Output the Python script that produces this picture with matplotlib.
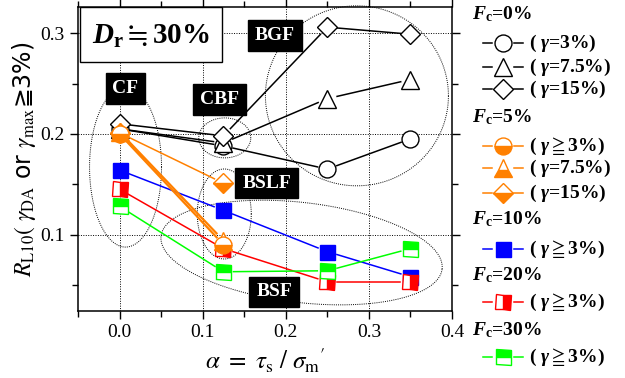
import numpy as np
import matplotlib
matplotlib.use('Agg')
from matplotlib import pyplot as plt
from matplotlib.patches import Rectangle

plt.rcParams['font.family'] = ['Liberation Serif', 'DejaVu Sans']
plt.rcParams['mathtext.fontset'] = 'custom'
plt.rcParams['mathtext.rm'] = 'Liberation Serif:bold'
plt.rcParams['mathtext.it'] = 'Liberation Serif:italic:bold'
plt.rcParams['mathtext.bf'] = 'Liberation Serif:bold'
plt.rcParams['mathtext.fallback'] = 'stix'

# data
alpha = [0.0, 0.125, 0.25, 0.35]
alpha_5 = [0.0, 0.125]
fc0_g3 = [0.205, 0.188, 0.165, 0.195]
fc0_g75 = [0.205, 0.191, 0.235, 0.254]
fc0_g15 = [0.210, 0.198, 0.306, 0.299]
fc5_g3 = [0.200, 0.090]
fc5_g75 = [0.202, 0.094]
fc5_g15 = [0.201, 0.151]
fc10 = [0.164, 0.124, 0.083, 0.058]
fc20 = [0.145, 0.086, 0.053, 0.053]
fc30 = [0.128, 0.063, 0.064, 0.086]

zones = ['CF', 'CBF', 'BGF', 'BSLF', 'BSF']
zone_x = [0.007, 0.120, 0.187, 0.177, 0.186]
zone_y = [0.245, 0.234, 0.298, 0.151, 0.043]

ORANGE, BLUE, RED, GREEN = '#ff8000', '#0000ff', '#ff0000', '#00ff00'

fig = plt.figure(figsize=(6.25, 3.78), dpi=100)
ax = fig.add_axes([0.1248, 0.1772, 0.5984, 0.8042])
ax.set_xlim(-0.05, 0.4)
ax.set_ylim(0.024, 0.326)


def gapped(x, y, gap=10):
    # Origin-style gap between line ends and markers
    pts = ax.transData.transform(np.column_stack([x, y]))
    inv = ax.transData.inverted()
    segs = []
    for p, q in zip(pts[:-1], pts[1:]):
        d = q - p
        u = d / np.hypot(*d)
        segs.append(inv.transform([p + u * gap, q - u * gap]))
    return segs


def series(x, y, color, marker, ms, fill='full', lw=1.1, z=3):
    for s in gapped(x, y):
        ax.plot(s[:, 0], s[:, 1], color=color, lw=lw, zorder=z)
    fc = 'white' if fill == 'none' else color
    ax.plot(x, y, ls='none', marker=marker, ms=ms, mec=color, mew=1.0,
            mfc=fc, fillstyle='full' if fill == 'none' else fill,
            markerfacecoloralt='white', zorder=z + 0.5)


def ellipse(cx, cy, w, h, ang=0):
    c = ax.transData.transform((cx, cy))
    t = np.linspace(0, 2 * np.pi, 300)
    r = np.deg2rad(ang)
    ex = w / 2 * np.cos(t)
    ey = h / 2 * np.sin(t)
    px = c[0] + ex * np.cos(r) - ey * np.sin(r)
    py = c[1] + ex * np.sin(r) + ey * np.cos(r)
    d = ax.transData.inverted().transform(np.column_stack([px, py]))
    ax.plot(d[:, 0], d[:, 1], color='k', lw=0.7, ls=(0, (1, 1.2)),
            zorder=1.5, clip_on=False)


ellipse(0.0072, 0.167, 72, 160)
ellipse(0.1266, 0.196, 52, 40)
ellipse(0.126, 0.1204, 54, 90)
ellipse(0.2856, 0.2378, 183, 180)
ellipse(0.219, 0.0821, 283, 100, -6.7)

series(alpha, fc10, BLUE, 's', 10.8, 'full')
series(alpha, fc20, RED, 's', 10.8, 'right')
series(alpha, fc30, GREEN, 's', 10.8, 'top')
series(alpha, fc0_g3, 'k', 'o', 12.2, 'none')
series(alpha, fc0_g75, 'k', '^', 13, 'none')
series(alpha, fc0_g15, 'k', 'D', 10.2, 'none')
series(alpha_5, fc5_g15, ORANGE, 'D', 10.2, 'bottom', z=5)
series(alpha_5, fc5_g75, ORANGE, '^', 13, 'bottom', lw=1.6, z=5)
series(alpha_5, fc5_g3, ORANGE, 'o', 12.2, 'bottom', lw=1.6, z=5)

for name, zx, zy in zip(zones, zone_x, zone_y):
    ax.text(zx, zy, name, color='white', fontsize=14, fontweight='bold',
            ha='center', va='center', zorder=7,
            bbox=dict(boxstyle='square,pad=0.35', fc='black', ec='black'))

# D_r box
ax.add_patch(Rectangle((0.005, 0.819), 0.38, 0.181, transform=ax.transAxes,
                       fc='white', ec='black', lw=1.0, zorder=8))
ax.text(0.195, 0.905, r'$D_{\mathrm{r}}\fallingdotseq$30%', transform=ax.transAxes,
        fontsize=21, fontweight='bold', ha='center', va='center', zorder=9)

ax.set_xticks([0.0, 0.1, 0.2, 0.3, 0.4])
ax.set_xticks([-0.05, 0.05, 0.15, 0.25, 0.35], minor=True)
ax.set_yticks([0.1, 0.2, 0.3])
ax.set_yticks([0.05, 0.15, 0.25], minor=True)
ax.set_xticklabels(['0.0', '0.1', '0.2', '0.3', '0.4'])
ax.set_yticklabels(['0.1', '0.2', '0.3'])
ax.tick_params(which='both', direction='out', labelsize=14, width=1.0,
               top=True, right=True)
ax.tick_params(which='major', length=6)
ax.tick_params(which='minor', length=4)
ax.grid(True, which='major', color='k', lw=0.7, ls=(0, (1, 1.5)))
ax.set_axisbelow(True)
for sp in ax.spines.values():
    sp.set_linewidth(1.1)

ax.set_xlabel(r'$\alpha\ =\ \tau_{\mathrm{s}}\ /\ \sigma_{\mathrm{m}}{}^{\prime}$',
              fontsize=18, math_fontfamily='stix', labelpad=4)
ax.set_ylabel(r'$R_{\mathrm{L10}}(\ \gamma_{\mathrm{DA}}$ or $\gamma_{\mathrm{max}}$≧3%)',
              fontsize=17, math_fontfamily='stix', family='DejaVu Sans',
              labelpad=2)

# legend drawn in figure pixel space
lax = fig.add_axes([0, 0, 1, 1])
lax.set_xlim(0, 625)
lax.set_ylim(378, 0)
lax.axis('off')


def head(y, txt):
    lax.text(472, y, r'$F_{\mathrm{c}}$=' + txt, fontsize=14, fontweight='bold',
             va='center', ha='left')


def item(y, color, marker, ms, fill, txt):
    lax.plot([483, 492], [y, y], color=color, lw=1.1)
    lax.plot([514, 523], [y, y], color=color, lw=1.1)
    fc = 'white' if fill == 'none' else color
    lax.plot([503], [y], ls='none', marker=marker, ms=ms, mec=color, mew=1.0,
             mfc=fc, fillstyle='full' if fill == 'none' else fill,
             markerfacecoloralt='white')
    lax.text(529, y, txt, fontsize=14, fontweight='bold', va='center', ha='left')


head(14, '0%')
item(43, 'k', 'o', 12.2, 'none', r'( $\gamma$=3%)')
item(67, 'k', '^', 13, 'none', r'( $\gamma$=7.5%)')
item(89, 'k', 'D', 10.2, 'none', r'( $\gamma$=15%)')
head(117, '5%')
item(146, ORANGE, 'o', 12.2, 'bottom', r'( $\gamma\geqq$3%)')
item(168, ORANGE, '^', 13, 'bottom', r'( $\gamma$=7.5%)')
item(193, ORANGE, 'D', 10.2, 'bottom', r'( $\gamma$=15%)')
head(219, '10%')
item(249, BLUE, 's', 10.8, 'full', r'( $\gamma\geqq$3%)')
head(275, '20%')
item(302, RED, 's', 10.8, 'right', r'( $\gamma\geqq$3%)')
head(330, '30%')
item(357, GREEN, 's', 10.8, 'top', r'( $\gamma\geqq$3%)')

fig.savefig('out.png', dpi=100)
